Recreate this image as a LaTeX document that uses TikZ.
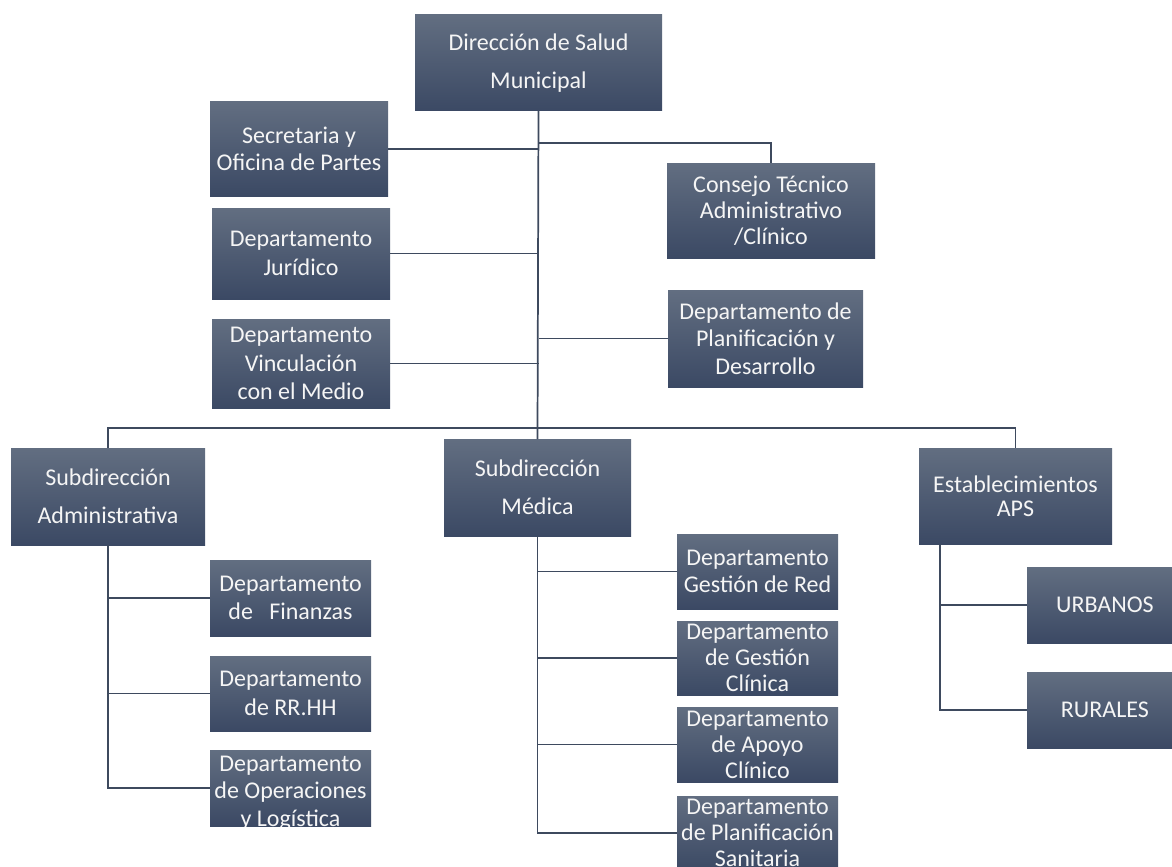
\documentclass[tikz,border=0pt]{standalone}
\usepackage{fontspec}
\setmainfont{Carlito}
\usetikzlibrary{shadings}
\definecolor{boxtop}{RGB}{98,110,129}
\definecolor{boxbot}{RGB}{59,73,100}
\definecolor{linec}{RGB}{62,74,94}
\definecolor{txtc}{RGB}{245,245,245}
\begin{document}
\begin{tikzpicture}[x=0.75pt,y=-0.75pt,
  boxtext/.style={text=txtc, align=center, inner sep=0pt, font=\fontsize{18}{19.5}\selectfont},
  box/.style={boxtext, outer sep=0pt, top color=boxtop, bottom color=boxbot, draw=none},
  spanning/.style n args={4}{minimum width={(#3-#1)*0.75pt}, minimum height={(#4-#2)*0.75pt},
    at={({(#1+#3)/2},{(#2+#4)/2})}},
  conn/.style={draw=linec, line width=1.3pt}]
\useasboundingbox (0,0) rectangle (1172,867);

% top level
\node[box, spanning={415}{15}{662}{111}] (dir) {Dirección de Salud\\[9pt]Municipal};
\node[box, spanning={210}{102}{388}{196}] (sec) {Secretaria y\\[1pt]Oficina de Partes};
\node[box, spanning={212}{208}{390}{299}] (jur) {Departamento\\[2pt]Jurídico};
\node[box, spanning={212}{319}{390}{408}] (vin) {Departamento\\[2pt]Vinculación\\[2pt]con el Medio};
\node[box, spanning={667}{163}{875}{258}] (cons) {Consejo Técnico\\Administrativo\\/Clínico};
\node[box, spanning={668}{290}{863}{387}] (pld) {Departamento de\\[1pt]Planificación y\\[1pt]Desarrollo};

% second level
\node[box, spanning={11}{448}{205}{545}] (sadm) {Subdirección\\[9pt]Administrativa};
\node[box, spanning={444}{439}{631}{536}] (smed) {Subdirección\\[9pt]Médica};
\node[box, spanning={919}{448}{1112}{544}] (est) {Establecimientos\\[-1.5pt]APS};

% administrative departments
\node[box, spanning={210}{560}{371}{636}] (fin) {Departamento\\[2pt]de\ \ \ Finanzas};
\node[box, spanning={210}{656}{371}{731}] (rrhh) {Departamento\\[2pt]de RR.HH};
\node[box, spanning={210}{750}{371}{826},
  path picture={\node[boxtext, yshift=-4pt] at (path picture bounding box.center) {Departamento\\[1pt]de Operaciones\\[1pt]y Logística};}] (ops) {};

% medical departments
\node[box, spanning={677}{534}{838}{609}] (gr) {Departamento\\[1pt]Gestión de Red};
\node[box, spanning={677}{621}{838}{695}] (gc) {Departamento\\de Gestión\\Clínica};
\node[box, spanning={677}{707}{838}{782}] (ap) {Departamento\\de Apoyo\\Clínico};
\node[box, spanning={677}{796}{838}{870},
  path picture={\node[boxtext] at (path picture bounding box.center) {Departamento\\de Planificación\\Sanitaria};}] (ps) {};

% establishments
\node[box, spanning={1027}{567}{1172}{643}] (urb) {\ \ URBANOS};
\node[box, spanning={1027}{672}{1172}{748}] (rur) {\ \ RURALES};

% connectors
\coordinate (cj) at (538,143);
\coordinate (bus) at (538,428);
\coordinate (ev) at (940,544);

\draw[conn] (dir.south) -- (smed.north);
\draw[conn] (sec.east) -- (sec.east -| dir.south);
\draw[conn] (jur.east) -- (jur.east -| dir.south);
\draw[conn] (vin.east) -- (vin.east -| dir.south);
\draw[conn] (pld.west) -- (pld.west -| dir.south);
\draw[conn] (cj) -| (cons.north);
\draw[conn] (sadm.north) |- (bus) -| (est.north);

\draw[conn] (sadm.south) |- (ops.west);
\draw[conn] (fin.west) -- (fin.west -| sadm.south);
\draw[conn] (rrhh.west) -- (rrhh.west -| sadm.south);

\draw[conn] (smed.south) |- (ps.west);
\draw[conn] (gr.west) -- (gr.west -| smed.south);
\draw[conn] (gc.west) -- (gc.west -| smed.south);
\draw[conn] (ap.west) -- (ap.west -| smed.south);

\draw[conn] (ev) |- (rur.west);
\draw[conn] (urb.west) -- (urb.west -| ev);
\end{tikzpicture}
\end{document}
